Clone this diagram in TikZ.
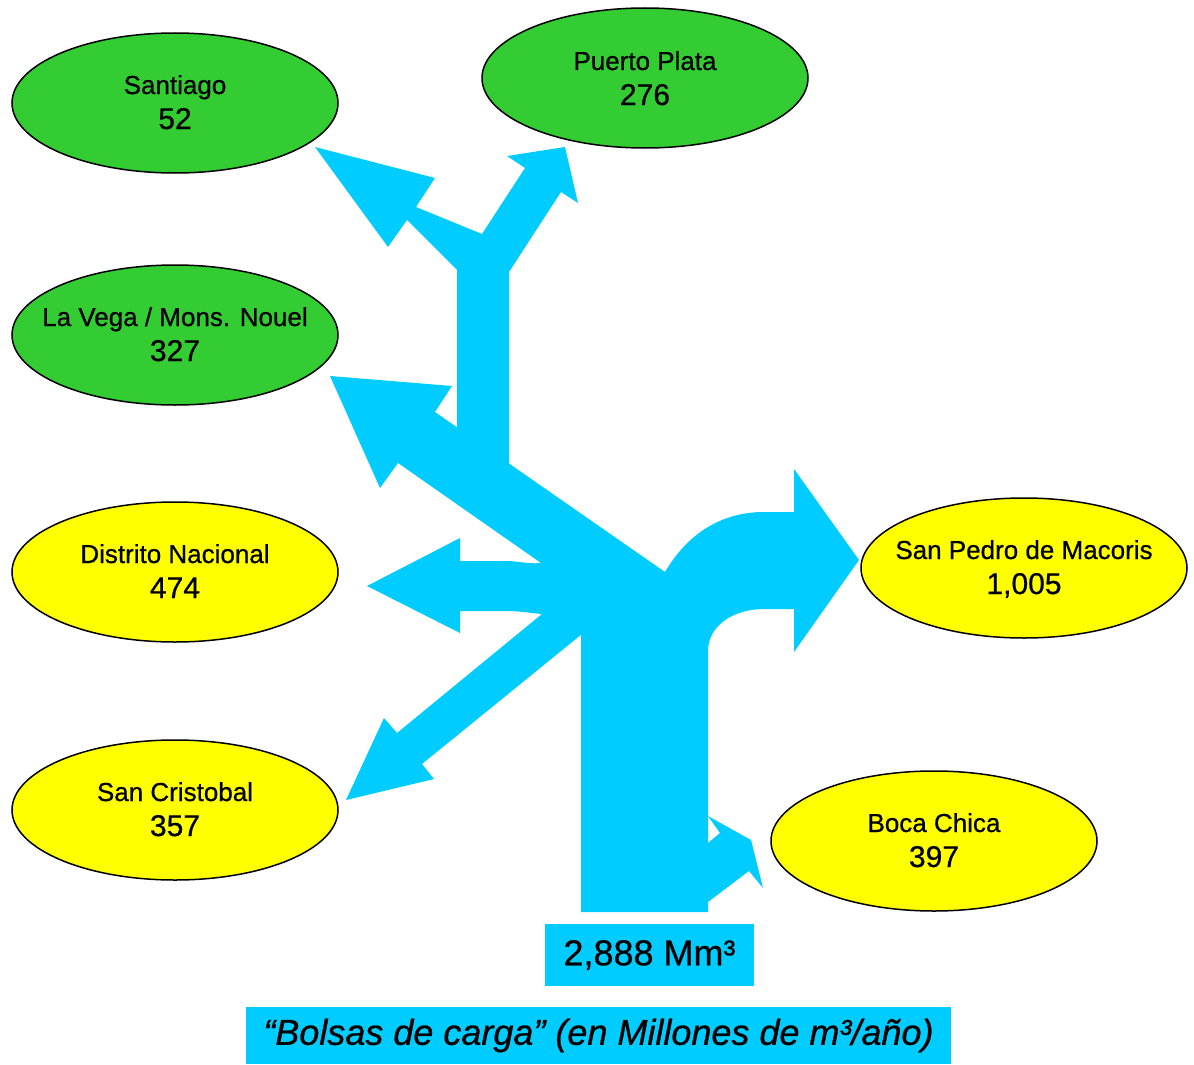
\documentclass[tikz,border=0pt]{standalone}
\usepackage{fontspec}
\setmainfont{Liberation Sans}
\newfontfamily\heavyfont{Liberation Sans}[FakeBold=0.7]
\usetikzlibrary{shapes.geometric}

\definecolor{flowblue}{RGB}{0,204,255}
\definecolor{regiongreen}{RGB}{51,204,51}
\definecolor{regionyellow}{RGB}{255,255,0}

\tikzset{
  flow/.style={fill=flowblue},
  region/.style={ellipse, draw=black, line width=1.5pt, minimum width=326pt, minimum height=140pt, inner sep=0pt},
  regname/.style={anchor=base, font=\heavyfont\fontsize{26}{30}\selectfont},
  regval/.style={anchor=base, font=\heavyfont\fontsize{30}{34}\selectfont},
  tag/.style={fill=flowblue, inner sep=0pt}
}

\begin{document}
\begin{tikzpicture}[x=1pt,y=-1pt]
\useasboundingbox (0,0) rectangle (1194,1065);

% the flows
\fill[flow] (457,480) -- (457,270) -- (407,220) -- (388,247) -- (315,147) -- (435,178) -- (416,207)
  -- (482,234) -- (525,168) -- (507,156) -- (565,147) -- (578,203) -- (561,192) -- (509,272) -- (509,480) -- cycle;
\fill[flow] (330,376) -- (452,386) -- (435,412) -- (665,572) -- (640,600) -- (560,590) -- (541,563)
  -- (398,463) -- (380,488) -- cycle;
\fill[flow] (367,586) -- (460,538) -- (460,561) -- (505,561) to [out=0,in=185] (541,563) -- (575,580)
  -- (575,600) -- (542,614) to [out=175,in=0] (505,611) -- (460,611) -- (460,633) -- cycle;
\fill[flow] (542,614) -- (397,733) -- (384,718) -- (346,800) -- (434,779) -- (422,764) -- (582,634)
  -- (575,600) -- cycle;
\fill[flow] (581,912) -- (581,634) -- (542,614) -- (541,563) -- (665,572)
  .. controls (688,533) and (722,512) .. (764,512) -- (794,512) -- (794,469) -- (859,560) -- (794,652)
  -- (794,609) -- (764,609) .. controls (733,609) and (708,626) .. (708,651) -- (708,912) -- cycle;
\fill[flow] (700,843) -- (708,843) -- (720,833) -- (708,816) -- (751,840) -- (763,888) -- (749,871)
  -- (708,902) -- (700,902) -- cycle;

% the regions
\node[region, fill=regiongreen] (santiago) at (175,103) {};
\node[region, fill=regiongreen] (puerto) at (645,78) {};
\node[region, fill=regiongreen] (lavega) at (175,335) {};
\node[region, fill=regionyellow] (distrito) at (175,572) {};
\node[region, fill=regionyellow] (cristobal) at (175,810) {};
\node[region, fill=regionyellow] (sanpedro) at (1024,568) {};
\node[region, fill=regionyellow] (bocachica) at (934,841) {};

\node[regname] (santiagoname) at ([yshift=9pt]santiago.center) {Santiago};
\node[regval] (santiagoval) at ([yshift=-26pt]santiago.center) {52};
\node[regname] (puertoname) at ([yshift=8pt]puerto.center) {Puerto Plata};
\node[regval] (puertoval) at ([yshift=-27pt]puerto.center) {276};
\node[regname] (laveganame) at ([yshift=9pt]lavega.center) {La Vega / Mons. Nouel};
\node[regval] (lavegaval) at ([yshift=-26pt]lavega.center) {327};
\node[regname] (distritoname) at ([yshift=9pt]distrito.center) {Distrito Nacional};
\node[regval] (distritoval) at ([yshift=-26pt]distrito.center) {474};
\node[regname] (cristobalname) at ([yshift=9pt]cristobal.center) {San Cristobal};
\node[regval] (cristobalval) at ([yshift=-26pt]cristobal.center) {357};
\node[regname] (sanpedroname) at ([yshift=9pt]sanpedro.center) {San Pedro de Macoris};
\node[regval] (sanpedroval) at ([yshift=-26pt]sanpedro.center) {1,005};
\node[regname] (bocachicaname) at ([yshift=9pt]bocachica.center) {Boca Chica};
\node[regval] (bocachicaval) at ([yshift=-26pt]bocachica.center) {397};

% totals
\node[tag, minimum width=209pt, minimum height=62pt, font=\heavyfont\fontsize{36}{40}\selectfont] (total) at (649.5,955) {2,888 Mm³};
\node[tag, minimum width=705pt, minimum height=57pt, font=\heavyfont\fontsize{36}{40}\selectfont\itshape] (caption) at (598.5,1035.5)
  {“Bolsas de carga” (en Millones de m³/año)};

\end{tikzpicture}
\end{document}
